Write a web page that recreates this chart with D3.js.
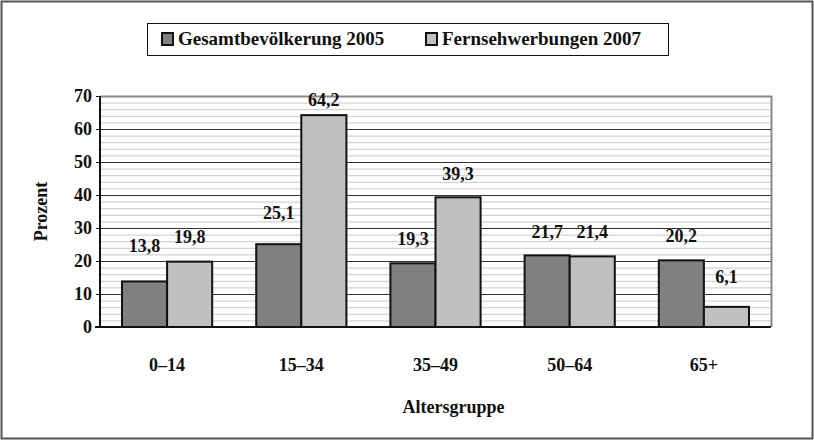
<!DOCTYPE html>
<html>
<head>
<meta charset="utf-8">
<script src="https://cdn.jsdelivr.net/npm/d3@7"></script>
<style>
  body { margin: 0; background: #fff; }
  text { font-family: "Liberation Serif", serif; font-weight: bold; fill: #111; }
</style>
</head>
<body>
<div id="chart"></div>
<script>
var svgWidth = 814;
var svgHeight = 440;

// data
var categories = ["0\u201314", "15\u201334", "35\u201349", "50\u201364", "65+"];
var seriesNames = ["Gesamtbevölkerung 2005", "Fernsehwerbungen 2007"];
var bevoelkerung = [13.8, 25.1, 19.3, 21.7, 20.2];
var werbung = [19.8, 64.2, 39.3, 21.4, 6.1];
var yTicks = [0, 10, 20, 30, 40, 50, 60, 70];
// label lift above bar top (px), as in the original layout
var liftBev = [29, 25, 18, 17, 18];
var liftWerb = [19, 9, 17, 18, 24];

var colors = ["#808080", "#c0c0c0"];
var fontSize = "18px";

var margin = { top: 96, right: 43, bottom: 113, left: 100 };
var width = svgWidth - margin.left - margin.right;
var height = svgHeight - margin.top - margin.bottom;

var svg = d3.select("#chart")
  .append("svg")
  .attr("width", svgWidth)
  .attr("height", svgHeight);

// outer frame
svg.append("rect")
  .attr("x", 1.5).attr("y", 1.5)
  .attr("width", svgWidth - 3).attr("height", svgHeight - 3)
  .attr("fill", "none").attr("stroke", "#555").attr("stroke-width", 2);

var chartGroup = svg.append("g")
  .attr("transform", `translate(${margin.left}, ${margin.top})`);

var x0 = d3.scaleBand()
  .domain(categories)
  .range([0, width]);

var x1 = d3.scaleBand()
  .domain([0, 1])
  .range([22, x0.bandwidth() - 22]);

var y = d3.scaleLinear()
  .domain([0, 70])
  .range([height, 0]);

// minor grid
chartGroup.append("g")
  .selectAll("line")
  .data(d3.range(2, 70, 2).filter(d => d % 10 !== 0))
  .enter()
  .append("line")
  .attr("x1", 0).attr("x2", width)
  .attr("y1", d => y(d) + 0.5).attr("y2", d => y(d) + 0.5)
  .attr("stroke", "#c8c8c8");

// major grid
chartGroup.append("g")
  .selectAll("line")
  .data(yTicks.slice(1, -1))
  .enter()
  .append("line")
  .attr("x1", 0).attr("x2", width)
  .attr("y1", d => y(d) + 0.5).attr("y2", d => y(d) + 0.5)
  .attr("stroke", "#333");

// plot border top/right
chartGroup.append("path")
  .attr("d", `M0,${y(70) + 0.5}H${width + 0.5}V${height}`)
  .attr("fill", "none")
  .attr("stroke", "#888")
  .attr("stroke-width", 2);

// bars
var rows = categories.map((c, i) => ({ cat: c, vals: [bevoelkerung[i], werbung[i]], lift: [liftBev[i], liftWerb[i]] }));

var groups = chartGroup.selectAll(".grp")
  .data(rows)
  .enter()
  .append("g")
  .attr("transform", d => `translate(${x0(d.cat)},0)`);

groups.selectAll("rect")
  .data(d => d.vals.map((v, k) => ({ k: k, v: v })))
  .enter()
  .append("rect")
  .attr("x", d => x1(d.k))
  .attr("y", d => y(d.v))
  .attr("width", x1.bandwidth())
  .attr("height", d => height - y(d.v))
  .attr("fill", d => colors[d.k])
  .attr("stroke", "#111")
  .attr("stroke-width", 2);

groups.selectAll("text")
  .data(d => d.vals.map((v, k) => ({ k: k, v: v, lift: d.lift[k] })))
  .enter()
  .append("text")
  .attr("x", d => x1(d.k) + x1.bandwidth() / 2)
  .attr("y", d => y(d.v) - d.lift)
  .attr("text-anchor", "middle")
  .style("font-size", fontSize)
  .text(d => d3.format(".1f")(d.v).replace(".", ","));

// axes
var leftAxis = d3.axisLeft(y)
  .tickValues(yTicks)
  .tickSize(4)
  .tickPadding(4);

var yAxisG = chartGroup.append("g").call(leftAxis);
yAxisG.select(".domain").attr("stroke", "#111").attr("stroke-width", 2).attr("d", `M0,0V${height}`);
yAxisG.selectAll(".tick line").attr("stroke", "#111");
yAxisG.selectAll(".tick text")
  .style("font-size", fontSize)
  .style("font-family", "Liberation Serif")
  .style("font-weight", "bold")
  .attr("fill", "#111");

chartGroup.append("line")
  .attr("x1", -5).attr("x2", width)
  .attr("y1", height).attr("y2", height)
  .attr("stroke", "#111").attr("stroke-width", 2);

// category labels
chartGroup.selectAll(".cat")
  .data(categories)
  .enter()
  .append("text")
  .attr("x", d => x0(d) + x0.bandwidth() / 2)
  .attr("y", height + 44)
  .attr("text-anchor", "middle")
  .style("font-size", fontSize)
  .text(d => d);

// axis titles
chartGroup.append("text")
  .attr("transform", `translate(${-53}, ${height / 2}) rotate(-90)`)
  .attr("text-anchor", "middle")
  .style("font-size", fontSize)
  .text("Prozent");

chartGroup.append("text")
  .attr("x", width / 2 + 18)
  .attr("y", height + 86)
  .attr("text-anchor", "middle")
  .style("font-size", fontSize)
  .text("Altersgruppe");

// legend
var legend = svg.append("g");
legend.append("rect")
  .attr("x", 147.5).attr("y", 23.5)
  .attr("width", 521).attr("height", 32)
  .attr("fill", "#fff").attr("stroke", "#111");

var legendX = [162, 426];
seriesNames.forEach(function (name, i) {
  legend.append("rect")
    .attr("x", legendX[i]).attr("y", 33)
    .attr("width", 11).attr("height", 12)
    .attr("fill", colors[i]).attr("stroke", "#111").attr("stroke-width", 2);
  legend.append("text")
    .attr("x", legendX[i] + 16).attr("y", 45)
    .style("font-size", "19px")
    .text(name);
});
</script>
</body>
</html>
